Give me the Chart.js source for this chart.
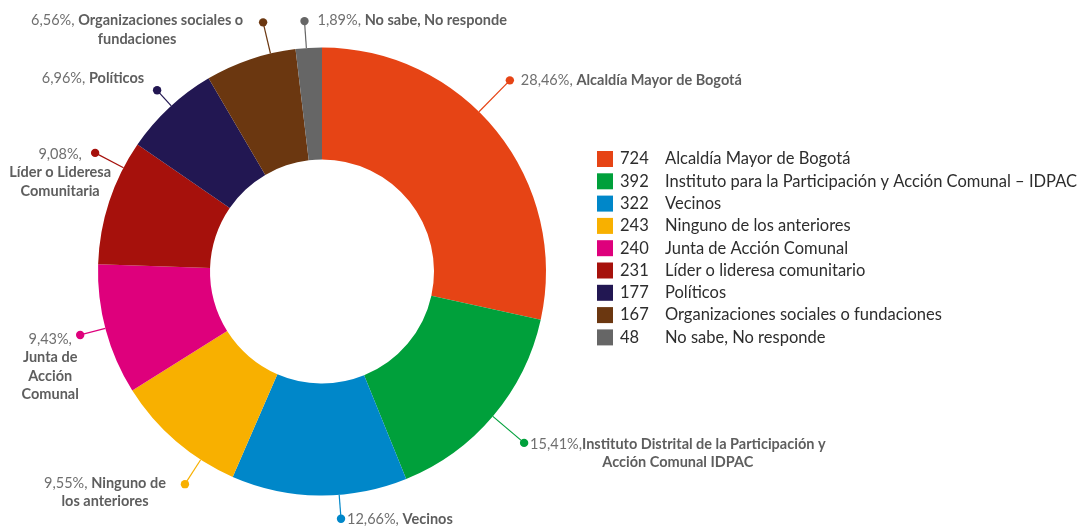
<!DOCTYPE html>
<html>
<head>
<meta charset="utf-8">
<script src="https://cdn.jsdelivr.net/npm/chart.js@4"></script>
<style>
  html,body{margin:0;padding:0;background:#fff;}
  #wrap{width:1078px;height:526px;position:relative;}
</style>
</head>
<body>
<div id="wrap"><canvas id="c" width="1078" height="526"></canvas></div>
<script>
// ---- data ----
const categories = [
  "Alcaldía Mayor de Bogotá",
  "Instituto para la Participación y Acción Comunal – IDPAC",
  "Vecinos",
  "Ninguno de los anteriores",
  "Junta de Acción Comunal",
  "Líder o lideresa comunitario",
  "Políticos",
  "Organizaciones sociales o fundaciones",
  "No sabe, No responde"
];
const counts = [724, 392, 322, 243, 240, 231, 177, 167, 48];
const calloutNames = [
  ["Alcaldía Mayor de Bogotá"],
  ["Instituto Distrital de la Participación y", "Acción Comunal IDPAC"],
  ["Vecinos"],
  ["Ninguno de", "los anteriores"],
  ["Junta de", "Acción", "Comunal"],
  ["Líder o Lideresa", "Comunitaria"],
  ["Políticos"],
  ["Organizaciones sociales o", "fundaciones"],
  ["No sabe, No responde"]
];
const colors = ["#E64415","#00A03B","#0087C9","#F8B000","#DE007C","#A6110C","#221752","#6B3710","#666666"];

// ---- callout layout (style only) ----
const calloutLayout = [
  {ang:44.5,  dist:268, anchor:'left',   dx:11,  dy:0,  sep:', '},
  {ang:130.3, dist:265, anchor:'left',   dx:6,   dy:1,  sep:','},
  {ang:175.6, dist:248, anchor:'left',   dx:6,   dy:1,  sep:', '},
  {ang:212.8, dist:253, anchor:'right',  dx:-19, dy:-1, sep:', '},
  {ang:255.3, dist:250, anchor:'center', dx:-30, dy:4,  sep:',', own:true},
  {ang:297.6, dist:256, anchor:'center', dx:-35, dy:1,  sep:',', own:true},
  {ang:317.7, dist:245, anchor:'right',  dx:-13, dy:-12,sep:', '},
  {ang:346.7, dist:256, anchor:'right',  dx:-20, dy:-2, sep:', '},
  {ang:356.0, dist:251, anchor:'left',   dx:13,  dy:-1, sep:', '}
];

const FONT = "Lato, 'Open Sans', sans-serif";
const total = counts.reduce((a,b)=>a+b,0);
const pctText = v => (v/total*100).toFixed(2).replace('.', ',') + '%';

const calloutPlugin = {
  id:'callouts',
  afterDatasetsDraw(chart){
    const ctx = chart.ctx;
    const meta = chart.getDatasetMeta(0);
    const arc0 = meta.data[0];
    const cx = arc0.x, cy = arc0.y, R = arc0.outerRadius;
    const lh = 18.5;
    const regular = "400 14.5px " + FONT, bold = "700 14.5px " + FONT;
    meta.data.forEach((arc, i) => {
      const L = calloutLayout[i];
      const a = L.ang * Math.PI/180;
      const ux = Math.sin(a), uy = -Math.cos(a);
      const x0 = cx + ux*R, y0 = cy + uy*R;
      const dxp = cx + ux*L.dist, dyp = cy + uy*L.dist;
      ctx.save();
      ctx.strokeStyle = colors[i];
      ctx.lineWidth = 1.2;
      ctx.beginPath(); ctx.moveTo(x0,y0); ctx.lineTo(dxp,dyp); ctx.stroke();
      ctx.fillStyle = colors[i];
      ctx.beginPath(); ctx.arc(dxp,dyp,4.2,0,Math.PI*2); ctx.fill();
      const pct = pctText(counts[i]) + L.sep;
      const names = calloutNames[i];
      const lines = [];
      if (L.own) {
        lines.push([[pct, regular, '#6f6f6f']]);
        names.forEach(n => lines.push([[n, bold, '#5e5e5e']]));
      } else {
        lines.push([[pct, regular, '#6f6f6f'], [names[0], bold, '#5e5e5e']]);
        names.slice(1).forEach(n => lines.push([[n, bold, '#5e5e5e']]));
      }
      const widths = lines.map(segs => segs.reduce((w,s)=>{ctx.font=s[1]; return w+ctx.measureText(s[0]).width;},0));
      const ax = dxp + L.dx, ay = dyp + L.dy;
      let center;
      if (L.anchor==='left') center = ax + widths[0]/2;
      else if (L.anchor==='right') center = ax - widths[0]/2;
      else center = ax;
      ctx.textBaseline = 'middle';
      ctx.textAlign = 'left';
      lines.forEach((segs, k) => {
        let x = center - widths[k]/2;
        const y = ay + k*lh;
        segs.forEach(s => { ctx.font = s[1]; ctx.fillStyle = s[2]; ctx.fillText(s[0], x, y); x += ctx.measureText(s[0]).width; });
      });
      ctx.restore();
    });
  }
};

const legendPlugin = {
  id:'sideLegend',
  afterDraw(chart){
    const ctx = chart.ctx;
    const x0 = 597, y0 = 159, step = 22.3, box = 16;
    ctx.save();
    ctx.textBaseline = 'middle';
    ctx.font = "400 16.5px " + FONT;
    chart.data.labels.forEach((lab, i) => {
      const y = y0 + i*step;
      ctx.fillStyle = colors[i];
      ctx.fillRect(x0, y - box/2, box, box);
      ctx.fillStyle = '#2d2d2d';
      ctx.fillText(String(counts[i]), x0 + 23, y);
      ctx.fillText(lab, x0 + 68, y);
    });
    ctx.restore();
  }
};

new Chart(document.getElementById('c'), {
  type:'doughnut',
  data:{ labels:categories, datasets:[{ data:counts, backgroundColor:colors, borderWidth:0 }] },
  options:{
    responsive:false,
    animation:false,
    cutout:'50%',
    layout:{ padding:{ left:98, right:532, top:47, bottom:30 } },
    plugins:{ legend:{display:false}, tooltip:{enabled:false} }
  },
  plugins:[calloutPlugin, legendPlugin]
});
</script>
</body>
</html>
